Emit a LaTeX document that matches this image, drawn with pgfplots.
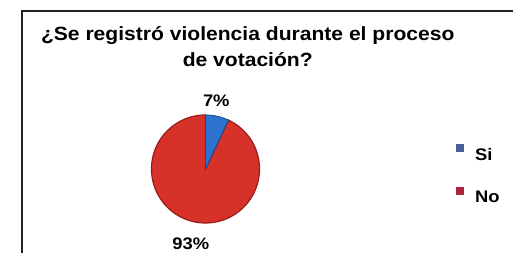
\documentclass[border=0pt]{standalone}
\usepackage{fontspec}
\setmainfont{Liberation Sans}[FakeStretch=1.1]
\usepackage{pgfplots}
\usepackage{pgfplotstable}
\pgfplotsset{compat=1.18}

\definecolor{pieRed}{RGB}{214,50,42}
\definecolor{pieRedEdge}{RGB}{150,28,28}
\definecolor{pieBlue}{RGB}{45,115,205}
\definecolor{pieBlueEdge}{RGB}{25,70,140}
\definecolor{legBlue}{RGB}{70,95,150}
\definecolor{legRed}{RGB}{175,35,60}
\definecolor{frame}{RGB}{35,35,35}

\pgfplotstableread{
label value
Si 7
No 93
}\piedata

\begin{document}
\pgfplotstablegetelem{0}{value}\of\piedata\let\vSi\pgfplotsretval
\pgfplotstablegetelem{1}{value}\of\piedata\let\vNo\pgfplotsretval
\pgfmathsetmacro{\aStart}{90}
\pgfmathsetmacro{\aMid}{90-3.6*\vSi}
\pgfmathsetmacro{\aEnd}{\aMid-3.6*\vNo}
\begin{tikzpicture}
\path[use as bounding box] (0,0) rectangle (513pt,258pt);
\begin{axis}[
  at={(0,0)}, anchor=south west,
  scale only axis, width=513pt, height=258pt,
  xmin=0, xmax=513, ymin=0, ymax=258,
  hide axis, clip=false,
  legend style={draw=none, fill=none, inner sep=0pt, outer sep=0pt,
    at={(axis cs:455,79.5)}, anchor=west,
    font=\fontsize{17}{20}\selectfont\bfseries,
    row sep=24pt, column sep=10pt,
    cells={inner sep=0pt, anchor=west}},
  legend cell align=left,
]
% frame
\draw[frame, line width=2.5pt] (axis cs:13,0) -- (axis cs:13,247) -- (axis cs:513,247);
% pie slices
\addplot[forget plot, fill=pieRed, draw=pieRedEdge, line width=1.2pt, domain=\aEnd:\aMid, samples=120]
  ({200+55*cos(x)},{86+55*sin(x)}) -- (axis cs:200,86) -- cycle;
\addplot[forget plot, fill=pieBlue, draw=pieBlueEdge, line width=0.8pt, domain=\aMid:\aStart, samples=20]
  ({200+55*cos(x)},{86+55*sin(x)}) -- (axis cs:200,86) -- cycle;
% legend
\addlegendimage{legend image code/.code={\fill[legBlue] (0pt,4pt) rectangle (7pt,10.5pt);}}
\addlegendentry{Si}
\addlegendimage{legend image code/.code={\fill[legRed] (0pt,4pt) rectangle (7pt,10.5pt);}}
\addlegendentry{No}
% title
\node[anchor=base, inner sep=0pt, font=\fontsize{19.5}{24}\selectfont\bfseries]
  at (axis cs:243,217) {¿Se registró violencia durante el proceso};
\node[anchor=base, inner sep=0pt, font=\fontsize{19.5}{24}\selectfont\bfseries]
  at (axis cs:243,190) {de votación?};
% data labels
\node[anchor=base, inner sep=0pt, font=\fontsize{17}{20}\selectfont\bfseries]
  at (axis cs:211,150) {\vSi\%};
\node[anchor=base, inner sep=0pt, font=\fontsize{17}{20}\selectfont\bfseries]
  at (axis cs:185,4) {\vNo\%};
\end{axis}
\end{tikzpicture}
\end{document}
